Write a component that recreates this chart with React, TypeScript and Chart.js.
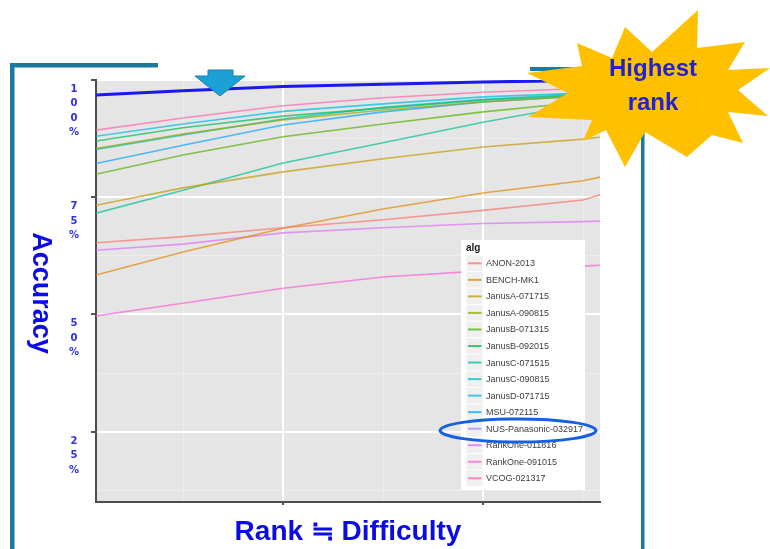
import React, { useEffect, useRef } from "react";
import { Chart, registerables } from "chart.js";

Chart.register(...registerables);

// ---------- data ----------
const RANKS = [0.65, 5, 10, 15, 20, 25, 25.85];

const SERIES_NAMES = [
  "ANON-2013",
  "BENCH-MK1",
  "JanusA-071715",
  "JanusA-090815",
  "JanusB-071315",
  "JanusB-092015",
  "JanusC-071515",
  "JanusC-090815",
  "JanusD-071715",
  "MSU-072115",
  "NUS-Panasonic-032917",
  "RankOne-011816",
  "RankOne-091015",
  "VCOG-021317",
];

const ANON_2013 = [65.3, 66.6, 68.5, 70.2, 72.2, 74.4, 75.5];
const BENCH_MK1 = [58.4, 63.3, 68.4, 72.5, 75.9, 78.5, 79.3];
const JANUSA_071715 = [73.3, 77.0, 80.4, 83.2, 85.7, 87.4, 87.8];
const JANUSA_090815 = [85.4, 88.5, 91.5, 93.6, 95.3, 96.6, 96.8];
const JANUSB_071315 = [79.9, 84.0, 87.9, 90.6, 93.2, 95.3, 95.7];
const JANUSB_092015 = [87.0, 89.8, 92.3, 94.0, 95.7, 96.8, 97.0];
const JANUSC_071515 = [71.6, 76.5, 82.3, 86.6, 91.0, 94.9, 95.7];
const JANUSC_090815 = [85.2, 88.3, 91.7, 94.2, 95.9, 97.0, 97.1];
const JANUSD_071715 = [88.0, 90.6, 93.3, 94.9, 96.4, 97.2, 97.3];
const MSU_072115 = [82.2, 86.1, 90.4, 93.2, 95.3, 96.6, 96.8];
const NUS_PANASONIC_032917 = [96.8, 97.7, 98.6, 99.1, 99.6, 99.9, 100];
const RANKONE_011816 = [63.7, 65.0, 67.4, 68.5, 69.4, 69.8, 69.9];
const RANKONE_091015 = [49.7, 52.4, 55.6, 58.0, 59.3, 60.3, 60.5];
const VCOG_021317 = [89.3, 91.9, 94.5, 96.2, 97.4, 98.2, 98.3];

const SERIES_VALUES = [
  ANON_2013,
  BENCH_MK1,
  JANUSA_071715,
  JANUSA_090815,
  JANUSB_071315,
  JANUSB_092015,
  JANUSC_071515,
  JANUSC_090815,
  JANUSD_071715,
  MSU_072115,
  NUS_PANASONIC_032917,
  RANKONE_011816,
  RANKONE_091015,
  VCOG_021317,
];

const PALETTE = [
  "#F8766D", "#E38900", "#C49A00", "#99A800", "#53B400", "#00BC56", "#00C094",
  "#00BFC4", "#00B6EB", "#06A4FF", "#A58AFF", "#DF70F8", "#FB61D7", "#FF66A8",
];

const HIGHLIGHT_SERIES = "NUS-Panasonic-032917";
const HIGHLIGHT_COLOR = "#1A1AF0";

const Y_MIN = 10;
const Y_MAX = 100;
const Y_TICKS = [12.5, 25, 37.5, 50, 62.5, 75, 87.5, 100];
const Y_TICK_LABELS = ["25%", "50%", "75%", "100%"];
const X_TICKS = [5, 10, 15, 20, 25];

const LEGEND_TITLE = "alg";
const X_TITLE = "Rank ≒ Difficulty";
const Y_TITLE = "Accuracy";

const BLUE_TEXT = "#0B0BE6";
const TEAL = "#1B7A9E";

function withAlpha(hex: string, a: number) {
  const r = parseInt(hex.slice(1, 3), 16);
  const g = parseInt(hex.slice(3, 5), 16);
  const b = parseInt(hex.slice(5, 7), 16);
  return `rgba(${r},${g},${b},${a})`;
}

const panelPlugin = {
  id: "panelBg",
  beforeDraw(chart: any) {
    const { ctx, chartArea: a } = chart;
    ctx.save();
    ctx.fillStyle = "#E5E5E5";
    ctx.fillRect(a.left, a.top, a.right - a.left, a.bottom - a.top);
    ctx.restore();
  },
};

const yTitlePlugin = {
  id: "yTitleCW",
  afterDraw(chart: any) {
    const { ctx, chartArea: a } = chart;
    ctx.save();
    ctx.translate(a.left - 56, 293);
    ctx.rotate(Math.PI / 2);
    ctx.font = 'bold 27px "Liberation Sans", Arial, sans-serif';
    ctx.fillStyle = BLUE_TEXT;
    ctx.textAlign = "center";
    ctx.textBaseline = "middle";
    ctx.fillText(Y_TITLE, 0, 0);
    ctx.restore();
  },
};

const ggLegendPlugin = {
  id: "ggLegend",
  afterDraw(chart: any) {
    const { ctx, chartArea: a } = chart;
    const left = a.right - 139;
    const top = 240;
    const w = 124;
    const h = 250;
    const step = 16.54;
    ctx.save();
    ctx.fillStyle = "#FFFFFF";
    ctx.fillRect(left, top, w, h);
    ctx.fillStyle = "#1A1A1A";
    ctx.font = 'bold 10px "Liberation Sans", Arial, sans-serif';
    ctx.textBaseline = "middle";
    ctx.textAlign = "left";
    ctx.fillText(LEGEND_TITLE, left + 5, top + 8);
    SERIES_NAMES.forEach((name, i) => {
      const cy = top + 23.3 + i * step;
      ctx.fillStyle = "#F0F0F0";
      ctx.fillRect(left + 5.5, cy - step / 2 + 0.5, 16, step - 1);
      ctx.strokeStyle = withAlpha(PALETTE[i], 0.75);
      ctx.lineWidth = 2;
      ctx.beginPath();
      ctx.moveTo(left + 7, cy);
      ctx.lineTo(left + 20.5, cy);
      ctx.stroke();
      ctx.fillStyle = "#3C3C3C";
      ctx.font = '9px "Liberation Sans", Arial, sans-serif';
      ctx.fillText(name, left + 25, cy + 0.5);
    });
    ctx.restore();
  },
};

function ChartCanvas() {
  const ref = useRef<HTMLCanvasElement | null>(null);
  useEffect(() => {
    if (!ref.current) return;
    const datasets = SERIES_NAMES.map((name, i) => {
      const hi = name === HIGHLIGHT_SERIES;
      return {
        label: name,
        data: RANKS.map((x, j) => ({ x, y: SERIES_VALUES[i][j] })),
        borderColor: hi ? HIGHLIGHT_COLOR : withAlpha(PALETTE[i], 0.7),
        backgroundColor: hi ? HIGHLIGHT_COLOR : PALETTE[i],
        borderWidth: hi ? 3 : 1.6,
        pointRadius: 0,
        tension: 0,
        fill: false,
        order: hi ? -1 : 0,
      };
    });
    const chart = new Chart(ref.current, {
      type: "line",
      data: { datasets },
      options: {
        responsive: false,
        animation: false,
        events: [],
        layout: { padding: { left: 36, top: 80, right: 170, bottom: 0 } },
        plugins: {
          legend: { display: false },
          tooltip: { enabled: false },
          title: { display: false },
        },
        scales: {
          x: {
            type: "linear",
            min: RANKS[0],
            max: RANKS[RANKS.length - 1],
            afterBuildTicks: (scale: any) => {
              scale.ticks = X_TICKS.map((v) => ({ value: v }));
            },
            afterFit: (scale: any) => {
              scale.height = 47;
            },
            ticks: { display: false },
            grid: {
              color: (c: any) => (c.tick && c.tick.value % 10 === 0 ? "#FFFFFF" : "#EDEDED"),
              lineWidth: (c: any) => (c.tick && c.tick.value % 10 === 0 ? 2 : 1),
              tickColor: (c: any) => (c.tick && c.tick.value % 10 === 0 ? "#555555" : "rgba(0,0,0,0)"),
              tickLength: 3,
              drawTicks: true,
            },
            border: { display: true, color: "#4D4D4D", width: 2 },
            title: {
              display: true,
              text: X_TITLE,
              color: BLUE_TEXT,
              font: { family: '"Liberation Sans", Arial, sans-serif', size: 28, weight: "bold" },
              padding: { top: 0, bottom: 0 },
            },
          },
          y: {
            type: "linear",
            min: Y_MIN,
            max: Y_MAX,
            afterBuildTicks: (scale: any) => {
              scale.ticks = Y_TICKS.map((v) => ({ value: v }));
            },
            afterFit: (scale: any) => {
              scale.width = 60;
            },
            ticks: {
              autoSkip: false,
              crossAlign: "center",
              padding: 12,
              labelOffset: 31,
              color: "#2E2EEE",
              font: { family: '"DejaVu Sans", sans-serif', size: 10, weight: "bold", lineHeight: 1.45 },
              callback: (v: any) => {
                const lbl = Y_TICK_LABELS.find((t) => parseFloat(t) === Number(v));
                if (!lbl) return "";
                const chars = lbl.split("");
                while (chars.length < 4) chars.push("");
                return chars;
              },
            },
            grid: {
              color: (c: any) => (c.tick && c.tick.value % 25 === 0 ? "#FFFFFF" : "#EDEDED"),
              lineWidth: (c: any) => (c.tick && c.tick.value % 25 === 0 ? 2 : 1),
              tickColor: (c: any) => (c.tick && c.tick.value % 25 === 0 ? "#555555" : "rgba(0,0,0,0)"),
              tickLength: 5,
              drawTicks: true,
            },
            border: { display: true, color: "#4D4D4D", width: 2 },
          },
        },
      },
      plugins: [panelPlugin, ggLegendPlugin, yTitlePlugin],
    } as any);
    return () => chart.destroy();
  }, []);
  return (
    <canvas
      ref={ref}
      width={770}
      height={549}
      style={{ position: "absolute", left: 0, top: 0, width: 770, height: 549 }}
    />
  );
}

const STAR_POINTS: [number, number][] = [
  [577, 43], [612, 58], [625, 27], [652, 52], [698, 10], [697, 48], [745, 42],
  [728, 70], [770, 68], [738, 90], [768, 116], [728, 112], [743, 143], [712, 135],
  [687, 157], [645, 132], [625, 167], [606, 130], [583, 141], [592, 120],
  [528, 117], [568, 93], [527, 73], [582, 66],
];

function Overlay() {
  return (
    <svg
      width={770}
      height={549}
      style={{ position: "absolute", left: 0, top: 0, pointerEvents: "none" }}
    >
      {/* slide frame */}
      <rect x={10} y={63} width={4.5} height={486} fill={TEAL} />
      <rect x={10} y={63} width={148} height={4.5} fill={TEAL} />
      <rect x={530} y={67} width={47} height={4} fill={TEAL} />
      <rect x={641} y={67} width={3.5} height={482} fill={TEAL} />
      {/* arrow */}
      <polygon
        points="208,70 233,70 233,76 245,76 220,96 195,76 208,76"
        fill="#1BA1D6"
        stroke="#1680AC"
        strokeWidth={1}
      />
      {/* highlight ellipse */}
      <ellipse cx={518} cy={430.5} rx={78} ry={11.5} fill="none" stroke="#1560E0" strokeWidth={3} />
      {/* star */}
      <polygon points={STAR_POINTS.map((p) => p.join(",")).join(" ")} fill="#FFC000" />
      <text
        x={653}
        y={76}
        textAnchor="middle"
        fontFamily='"Liberation Sans", Arial, sans-serif'
        fontWeight="bold"
        fontSize={24}
        fill="#2222D2"
      >
        Highest
      </text>
      <text
        x={653}
        y={110}
        textAnchor="middle"
        fontFamily='"Liberation Sans", Arial, sans-serif'
        fontWeight="bold"
        fontSize={24}
        fill="#2222D2"
      >
        rank
      </text>
    </svg>
  );
}

export default function App() {
  return (
    <div
      style={{
        position: "fixed",
        left: 0,
        top: 0,
        width: 770,
        height: 549,
        overflow: "hidden",
        background: "#FFFFFF",
      }}
    >
      <ChartCanvas />
      <Overlay />
    </div>
  );
}
